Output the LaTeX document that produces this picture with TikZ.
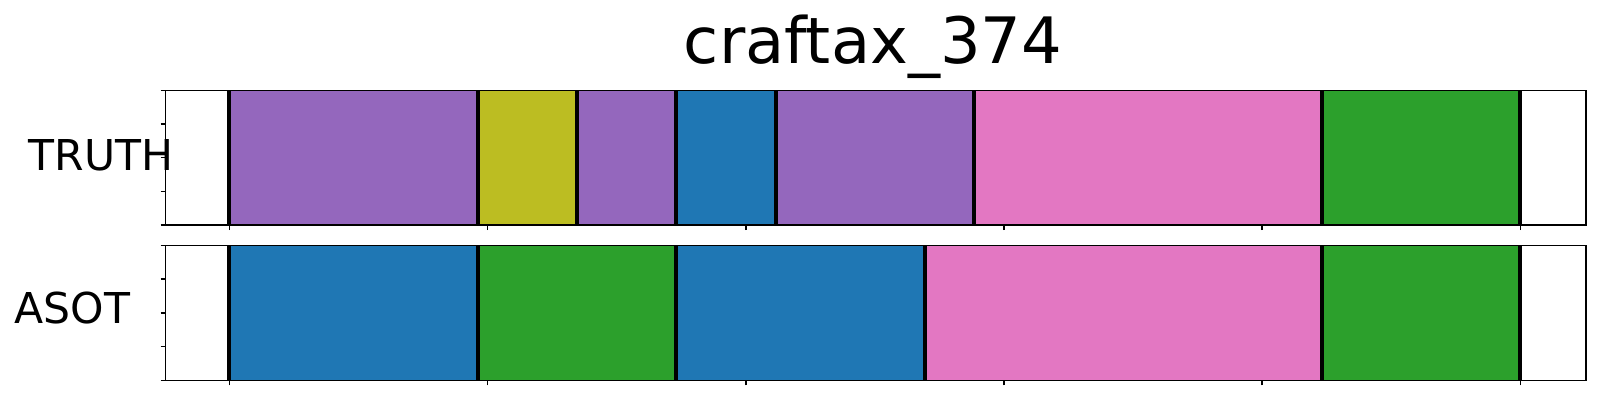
\documentclass[tikz,border=0pt]{standalone}
\usepackage{fontspec}
\setmainfont{DejaVu Sans}
\usetikzlibrary{positioning}
\definecolor{tabpurple}{HTML}{9467BD}
\definecolor{tabolive}{HTML}{BCBD22}
\definecolor{tabblue}{HTML}{1F77B4}
\definecolor{tabpink}{HTML}{E377C2}
\definecolor{tabgreen}{HTML}{2CA02C}
\tikzset{
  seg/.style={draw=none},
  cut/.style={black,line width=1.15pt},
  frame/.style={black,line width=0.45pt},
  tick/.style={black,line width=0.45pt},
}
\begin{document}
\begin{tikzpicture}
\useasboundingbox (0,0) rectangle (16,4);
% TRUTH panel
\fill[seg,fill=tabpurple] (2.293,1.75) rectangle (4.78,3.097);
\fill[seg,fill=tabolive] (4.78,1.75) rectangle (5.77,3.097);
\fill[seg,fill=tabpurple] (5.77,1.75) rectangle (6.76,3.097);
\fill[seg,fill=tabblue] (6.76,1.75) rectangle (7.76,3.097);
\fill[seg,fill=tabpurple] (7.76,1.75) rectangle (9.74,3.097);
\fill[seg,fill=tabpink] (9.74,1.75) rectangle (13.22,3.097);
\fill[seg,fill=tabgreen] (13.22,1.75) rectangle (15.203,3.097);
\draw[cut] (2.293,1.75) -- (2.293,3.097);
\draw[cut] (4.78,1.75) -- (4.78,3.097);
\draw[cut] (5.77,1.75) -- (5.77,3.097);
\draw[cut] (6.76,1.75) -- (6.76,3.097);
\draw[cut] (7.76,1.75) -- (7.76,3.097);
\draw[cut] (9.74,1.75) -- (9.74,3.097);
\draw[cut] (13.22,1.75) -- (13.22,3.097);
\draw[cut] (15.203,1.75) -- (15.203,3.097);
\draw[frame] (1.657,1.75) rectangle (15.857,3.097);
\draw[tick] (1.607,3.097) -- (1.657,3.097);
\draw[tick] (1.607,2.760) -- (1.657,2.760);
\draw[tick] (1.607,2.424) -- (1.657,2.424);
\draw[tick] (1.607,2.087) -- (1.657,2.087);
\draw[tick] (1.607,1.75) -- (1.657,1.75);
\draw[tick] (2.293,1.70) -- (2.293,1.75);
\draw[tick] (4.875,1.70) -- (4.875,1.75);
\draw[tick] (7.457,1.70) -- (7.457,1.75);
\draw[tick] (10.039,1.70) -- (10.039,1.75);
\draw[tick] (12.621,1.70) -- (12.621,1.75);
\draw[tick] (15.203,1.70) -- (15.203,1.75);

% ASOT panel
\fill[seg,fill=tabblue] (2.293,0.197) rectangle (4.78,1.547);
\fill[seg,fill=tabgreen] (4.78,0.197) rectangle (6.76,1.547);
\fill[seg,fill=tabblue] (6.76,0.197) rectangle (9.247,1.547);
\fill[seg,fill=tabpink] (9.247,0.197) rectangle (13.22,1.547);
\fill[seg,fill=tabgreen] (13.22,0.197) rectangle (15.203,1.547);
\draw[cut] (2.293,0.197) -- (2.293,1.547);
\draw[cut] (4.78,0.197) -- (4.78,1.547);
\draw[cut] (6.76,0.197) -- (6.76,1.547);
\draw[cut] (9.247,0.197) -- (9.247,1.547);
\draw[cut] (13.22,0.197) -- (13.22,1.547);
\draw[cut] (15.203,0.197) -- (15.203,1.547);
\draw[frame] (1.657,0.197) rectangle (15.857,1.547);
\draw[tick] (1.607,1.547) -- (1.657,1.547);
\draw[tick] (1.607,1.209) -- (1.657,1.209);
\draw[tick] (1.607,0.872) -- (1.657,0.872);
\draw[tick] (1.607,0.534) -- (1.657,0.534);
\draw[tick] (1.607,0.197) -- (1.657,0.197);
\draw[tick] (2.293,0.147) -- (2.293,0.197);
\draw[tick] (4.875,0.147) -- (4.875,0.197);
\draw[tick] (7.457,0.147) -- (7.457,0.197);
\draw[tick] (10.039,0.147) -- (10.039,0.197);
\draw[tick] (12.621,0.147) -- (12.621,0.197);
\draw[tick] (15.203,0.147) -- (15.203,0.197);

\node[font=\fontsize{18.2}{20}\selectfont,anchor=base,inner sep=0pt] (title) at (8.73,3.367) {craftax\_374};
\node[font=\fontsize{12.1}{14}\selectfont,anchor=base west,inner sep=0pt] (truth) at (0.28,2.30) {TRUTH};
\node[font=\fontsize{12.1}{14}\selectfont,anchor=base west,inner sep=0pt] (asot) at (0.14,0.767) {ASOT};
\end{tikzpicture}
\end{document}
